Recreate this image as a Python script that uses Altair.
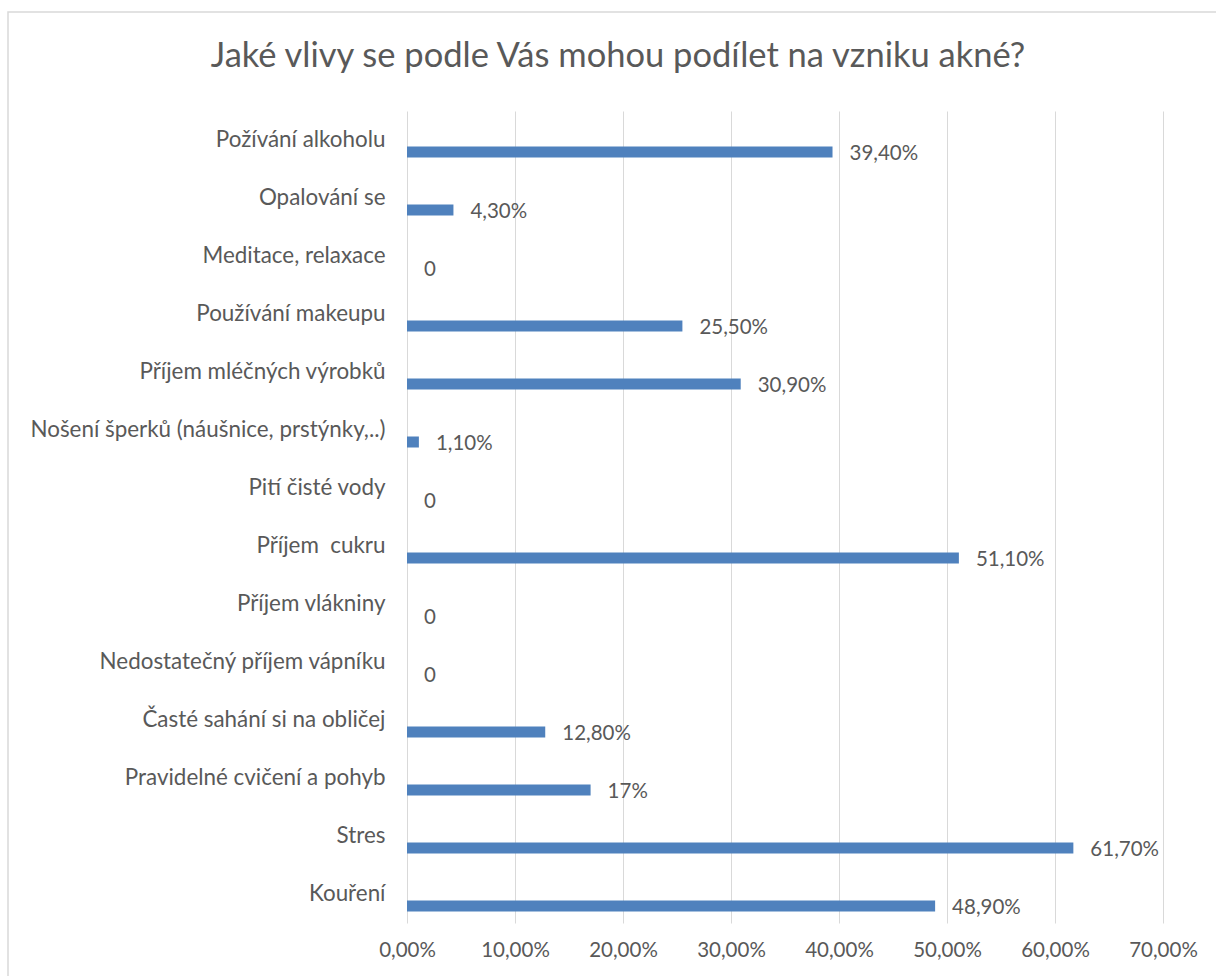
import altair as alt
import pandas as pd

categories = [
    "Požívání alkoholu",
    "Opalování se",
    "Meditace, relaxace",
    "Používání makeupu",
    "Příjem mléčných výrobků",
    "Nošení šperků (náušnice, prstýnky,..)",
    "Pití čisté vody",
    "Příjem\u00a0 cukru",
    "Příjem vlákniny",
    "Nedostatečný příjem vápníku",
    "Časté sahání si na obličej",
    "Pravidelné cvičení a pohyb",
    "Stres",
    "Kouření",
]
values = [0.394, 0.043, 0.0, 0.255, 0.309, 0.011, 0.0, 0.511, 0.0, 0.0, 0.128, 0.17, 0.617, 0.489]
value_labels = ["39,40%", "4,30%", "0", "25,50%", "30,90%", "1,10%", "0", "51,10%",
                "0", "0", "12,80%", "17%", "61,70%", "48,90%"]
x_ticks = [0, 0.1, 0.2, 0.3, 0.4, 0.5, 0.6, 0.7]

df = pd.DataFrame({"cat": categories, "val": values, "lab": value_labels})

FONT = "Lato"
GREY = "#595959"

y_enc = alt.Y("cat:N", sort=categories, title=None,
              scale=alt.Scale(paddingInner=0, paddingOuter=0),
              axis=alt.Axis(labelFont=FONT, labelFontSize=22.4, labelColor=GREY,
                            labelPadding=22, ticks=False, domain=False, grid=False,
                            labelLimit=500))
x_enc = alt.X("val:Q", title=None,
              scale=alt.Scale(domain=[0, 0.7], nice=False),
              axis=alt.Axis(values=x_ticks, labelExpr="replace(format(datum.value, '.2%'), '.', ',')",
                            labelFont=FONT, labelFontSize=20.5, labelColor=GREY,
                            labelFlush=False, labelPadding=17, ticks=False, domain=False,
                            grid=True, gridColor="#d9d9d9", gridWidth=1))

bars = alt.Chart(df).mark_bar(color="#4f81bd", size=11, yOffset=12).encode(y=y_enc, x=x_enc)
labels = alt.Chart(df).mark_text(align="left", baseline="middle", dx=17, yOffset=14,
                                 font=FONT, fontSize=20.5, color=GREY).encode(
    y=alt.Y("cat:N", sort=categories), x=alt.X("val:Q"), text="lab:N")

border = alt.Chart(pd.DataFrame({"a": [0]})).mark_rect(
    fill=None, stroke="#d9d9d9", strokeWidth=1.5).encode(
    x=alt.value(-399), x2=alt.value(812), y=alt.value(-99), y2=alt.value(870))

chart = alt.layer(border, bars, labels).properties(
    width=756, height=812,
    autosize=alt.AutoSizeParams(type="none"),
    padding={"left": 407, "top": 111, "right": 53, "bottom": 53},
    title=alt.TitleParams("Jaké vlivy se podle Vás mohou podílet na vzniku akné?",
                          font=FONT, fontSize=34.5, fontWeight="normal", color=GREY,
                          anchor="middle", frame="group", dx=-167, offset=-63),
).configure_view(stroke=None)

chart.save("out.html", embed_options={"renderer": "svg", "actions": False})
